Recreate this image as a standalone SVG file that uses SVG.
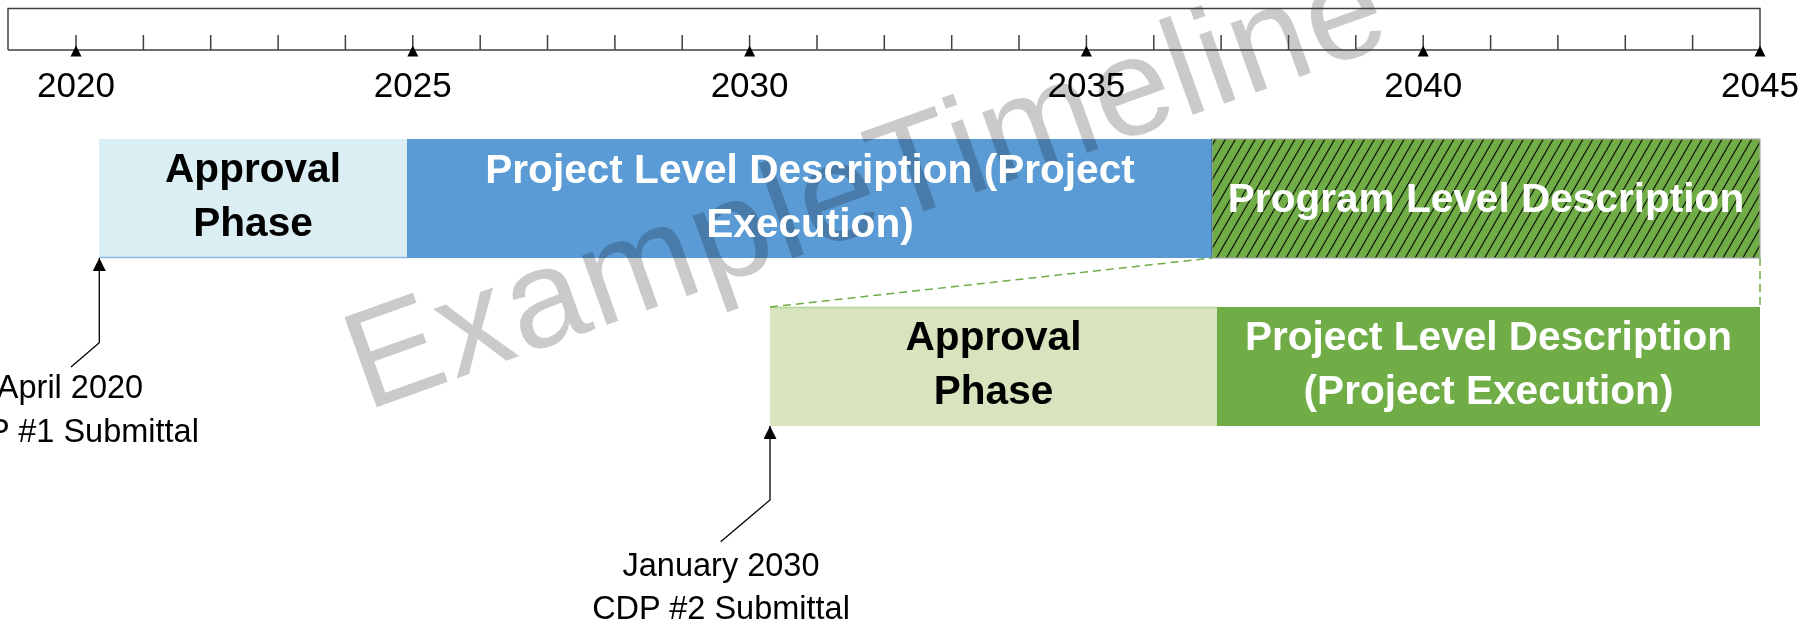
<svg xmlns="http://www.w3.org/2000/svg" width="1810" height="624" viewBox="0 0 1810 624">
<style>
.axis{stroke:#404040;stroke-width:1.5;fill:none}
.tick{stroke:#404040;stroke-width:1.5}
.tri{fill:#000}
.year{font-family:"Liberation Sans",Arial,sans-serif;font-size:35px;fill:#000;text-anchor:middle}
.bar{mix-blend-mode:multiply}
.lbl{font-family:"Liberation Sans",Arial,sans-serif;font-weight:bold;font-size:40.6px;text-anchor:middle}
.dark{fill:#000}
.light{fill:#fff}
.note{font-family:"Liberation Sans",Arial,sans-serif;font-size:32.5px;text-anchor:middle;fill:#000}
.conn{stroke:#000;stroke-width:1.3;fill:none}
.dash{stroke:#70AD47;stroke-width:1.5;stroke-dasharray:8 5;fill:none}
.wm{font-family:"Liberation Sans",Arial,sans-serif;font-size:139px;fill:#CACACA}
</style>
<defs>
<marker id="arrow" viewBox="0 0 10 10" refX="10" refY="5" markerWidth="13" markerHeight="13" markerUnits="userSpaceOnUse" orient="auto">
<path d="M0,0 L10,5 L0,10 z" fill="#000"/>
</marker>
<pattern id="hatch" width="8.6" height="8.6" patternUnits="userSpaceOnUse" patternTransform="rotate(30)">
<rect width="8.6" height="8.6" fill="#70AD47"/>
<line x1="4.3" y1="-1" x2="4.3" y2="9.6" stroke="#000" stroke-width="1.1"/>
</pattern>
</defs>
<rect x="0" y="0" width="1810" height="624" fill="#fff"/>

<g id="watermark">
<text class="wm" transform="translate(366,411) rotate(-19.7)" textLength="1092" lengthAdjust="spacing">ExampleTimeline</text>
</g>

<g id="timeline-axis">
<path class="axis" d="M8,50 L8,8.5 L1760,8.5 L1760,50 L8,50"/>
<g class="tick">
<line x1="143.4" y1="35" x2="143.4" y2="50"/>
<line x1="210.7" y1="35" x2="210.7" y2="50"/>
<line x1="278.1" y1="35" x2="278.1" y2="50"/>
<line x1="345.4" y1="35" x2="345.4" y2="50"/>
<line x1="480.2" y1="35" x2="480.2" y2="50"/>
<line x1="547.5" y1="35" x2="547.5" y2="50"/>
<line x1="614.9" y1="35" x2="614.9" y2="50"/>
<line x1="682.2" y1="35" x2="682.2" y2="50"/>
<line x1="817" y1="35" x2="817" y2="50"/>
<line x1="884.3" y1="35" x2="884.3" y2="50"/>
<line x1="951.7" y1="35" x2="951.7" y2="50"/>
<line x1="1019" y1="35" x2="1019" y2="50"/>
<line x1="1153.8" y1="35" x2="1153.8" y2="50"/>
<line x1="1221.1" y1="35" x2="1221.1" y2="50"/>
<line x1="1288.5" y1="35" x2="1288.5" y2="50"/>
<line x1="1355.8" y1="35" x2="1355.8" y2="50"/>
<line x1="1490.6" y1="35" x2="1490.6" y2="50"/>
<line x1="1557.9" y1="35" x2="1557.9" y2="50"/>
<line x1="1625.3" y1="35" x2="1625.3" y2="50"/>
<line x1="1692.6" y1="35" x2="1692.6" y2="50"/>
<line x1="76" y1="35" x2="76" y2="50"/>
<line x1="412.8" y1="35" x2="412.8" y2="50"/>
<line x1="749.6" y1="35" x2="749.6" y2="50"/>
<line x1="1086.4" y1="35" x2="1086.4" y2="50"/>
<line x1="1423.2" y1="35" x2="1423.2" y2="50"/>
</g>
<polygon class="tri" points="76,45.5 70.5,56.5 81.5,56.5"/>
<polygon class="tri" points="412.8,45.5 407.3,56.5 418.3,56.5"/>
<polygon class="tri" points="749.6,45.5 744.1,56.5 755.1,56.5"/>
<polygon class="tri" points="1086.4,45.5 1080.9,56.5 1091.9,56.5"/>
<polygon class="tri" points="1423.2,45.5 1417.7,56.5 1428.7,56.5"/>
<polygon class="tri" points="1760,45.5 1754.5,56.5 1765.5,56.5"/>
<text class="year" x="76" y="97">2020</text>
<text class="year" x="412.8" y="97">2025</text>
<text class="year" x="749.6" y="97">2030</text>
<text class="year" x="1086.4" y="97">2035</text>
<text class="year" x="1423.2" y="97">2040</text>
<text class="year" x="1760" y="97">2045</text>
</g>

<g id="node-approval-1">
<rect class="bar" x="99" y="139" width="308" height="119" fill="#DAEEF3"/>
<line x1="99" y1="257.5" x2="407" y2="257.5" stroke="#8DB9E3" stroke-width="1.5"/>
<text class="lbl dark" x="253" y="182">Approval</text>
<text class="lbl dark" x="253" y="236">Phase</text>
</g>

<g id="node-project-1">
<rect class="bar" x="407" y="139" width="805" height="119" fill="#5B9BD5"/>
<text class="lbl light" x="810" y="183">Project Level Description (Project</text>
<text class="lbl light" x="810" y="237">Execution)</text>
</g>

<g id="node-program">
<rect class="bar" x="1212" y="139" width="548" height="119" fill="url(#hatch)" stroke="#A6A6A6" stroke-width="1.2"/>
<text class="lbl light" x="1486" y="212">Program Level Description</text>
</g>

<g id="node-approval-2">
<rect class="bar" x="770" y="307" width="447" height="119" fill="#D7E4BD"/>
<line x1="770" y1="307.5" x2="1217" y2="307.5" stroke="#B5D39C" stroke-width="1.5"/>
<text class="lbl dark" x="993.5" y="350">Approval</text>
<text class="lbl dark" x="993.5" y="404">Phase</text>
</g>

<g id="node-project-2">
<rect class="bar" x="1217" y="307" width="543" height="119" fill="#70AD47"/>
<text class="lbl light" x="1488.5" y="350">Project Level Description</text>
<text class="lbl light" x="1488.5" y="404">(Project Execution)</text>
</g>

<g id="node-cdp1-note">
<text class="note" x="70" y="398">April 2020</text>
<text class="note" x="70" y="442">CDP #1 Submittal</text>
</g>

<g id="node-cdp2-note">
<text class="note" x="721" y="576">January 2030</text>
<text class="note" x="721" y="619">CDP #2 Submittal</text>
</g>

<g id="connectors">
<path class="dash" d="M770,307 L1212,258"/>
<path class="dash" d="M1760,258 L1760,307"/>
<path class="conn" d="M71,367 L99.3,342.7 L99.3,258" marker-end="url(#arrow)"/>
<path class="conn" d="M720.7,541.7 L770,500 L770,426" marker-end="url(#arrow)"/>
</g>
</svg>
